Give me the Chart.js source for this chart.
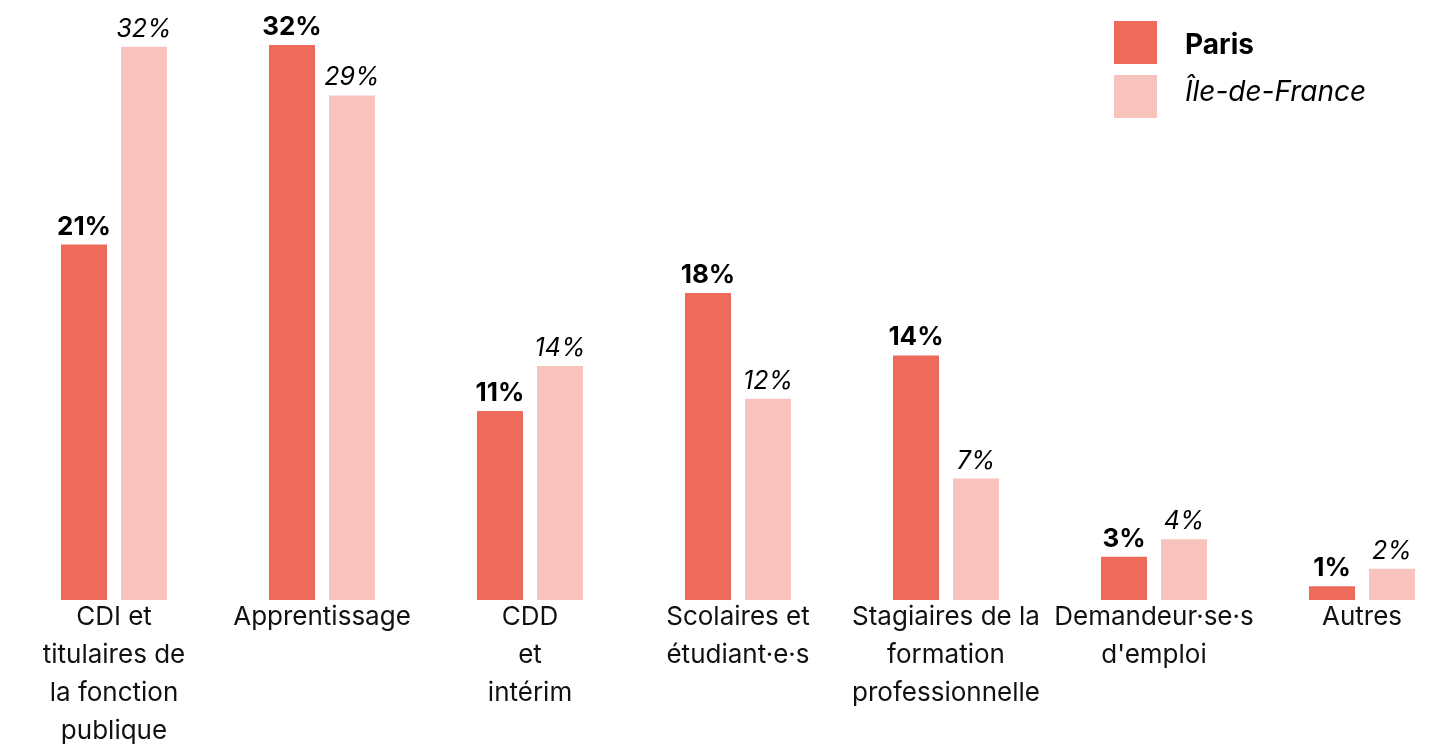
<!DOCTYPE html>
<html lang="fr">
<head>
<meta charset="utf-8">
<title>Statut des apprenants</title>
<script src="https://cdn.jsdelivr.net/npm/chart.js@4/dist/chart.umd.min.js"></script>
<style>
  html, body { margin: 0; padding: 0; background: #fff; overflow: hidden; }
  #wrap { position: relative; width: 1466px; height: 744px; }
  #legend { position: absolute; left: 1114px; top: 21px; font-family: Inter, "Open Sans", sans-serif; color: #000; }
  .item { display: flex; align-items: center; height: 43px; margin-bottom: 11px; }
  .sw { width: 43px; height: 43px; margin-right: 28px; flex: none; }
  .paris { font-weight: 700; font-size: 28px; position: relative; top: 1px; }
  .idf { font-style: italic; font-size: 28px; position: relative; top: -6px; }
</style>
</head>
<body>
<div id="wrap">
  <canvas id="chart" width="1466" height="744"></canvas>
  <div id="legend">
    <div class="item"><div class="sw" style="background:#EE6A5A"></div><span class="paris">Paris</span></div>
    <div class="item"><div class="sw" style="background:#F8C3BD"></div><span class="idf">Île-de-France</span></div>
  </div>
</div>
<script>
const categories = [
  ["CDI et", "titulaires de", "la fonction", "publique"],
  ["Apprentissage"],
  ["CDD", "et", "intérim"],
  ["Scolaires et", "étudiant·e·s"],
  ["Stagiaires de la", "formation", "professionnelle"],
  ["Demandeur·se·s", "d'emploi"],
  ["Autres"]
];
const parisValues = [20.5, 32, 10.9, 17.7, 14.1, 2.5, 0.8];
const idfValues = [31.9, 29.1, 13.5, 11.6, 7.0, 3.5, 1.8];
const parisLabels = ["21%", "32%", "11%", "18%", "14%", "3%", "1%"];
const idfLabels = ["32%", "29%", "14%", "12%", "7%", "4%", "2%"];

const barLabels = {
  id: "barLabels",
  afterDatasetsDraw(chart) {
    const ctx = chart.ctx;
    ctx.save();
    ctx.textAlign = "center";
    ctx.textBaseline = "alphabetic";
    ctx.fillStyle = "#000";
    chart.data.datasets.forEach((ds, i) => {
      const meta = chart.getDatasetMeta(i);
      ctx.font = i === 0 ? "bold 26px Inter, sans-serif" : "italic 25px Inter, sans-serif";
      meta.data.forEach((bar, j) => {
        ctx.fillText(ds.valueLabels[j], bar.x, bar.y - 10);
      });
    });
    ctx.restore();
  }
};

new Chart(document.getElementById("chart"), {
  type: "bar",
  data: {
    labels: categories,
    datasets: [
      {
        label: "Paris",
        data: parisValues,
        valueLabels: parisLabels,
        backgroundColor: "#EE6A5A",
        barPercentage: 0.767,
        categoryPercentage: 0.577
      },
      {
        label: "Île-de-France",
        data: idfValues,
        valueLabels: idfLabels,
        backgroundColor: "#F8C3BD",
        barPercentage: 0.767,
        categoryPercentage: 0.577
      }
    ]
  },
  options: {
    responsive: false,
    animation: false,
    layout: { padding: { left: 10, right: 0, top: 0, bottom: 0 } },
    plugins: { legend: { display: false }, tooltip: { enabled: false } },
    scales: {
      x: {
        grid: { display: false },
        border: { display: false },
        ticks: {
          color: "#111",
          padding: -10,
          maxRotation: 0,
          autoSkip: false,
          font: { family: "Inter, sans-serif", size: 26, lineHeight: 1.46 }
        },
        afterFit(scale) { scale.height = 144; }
      },
      y: {
        display: false,
        min: 0,
        max: 34.6
      }
    }
  },
  plugins: [barLabels]
});
</script>
</body>
</html>
